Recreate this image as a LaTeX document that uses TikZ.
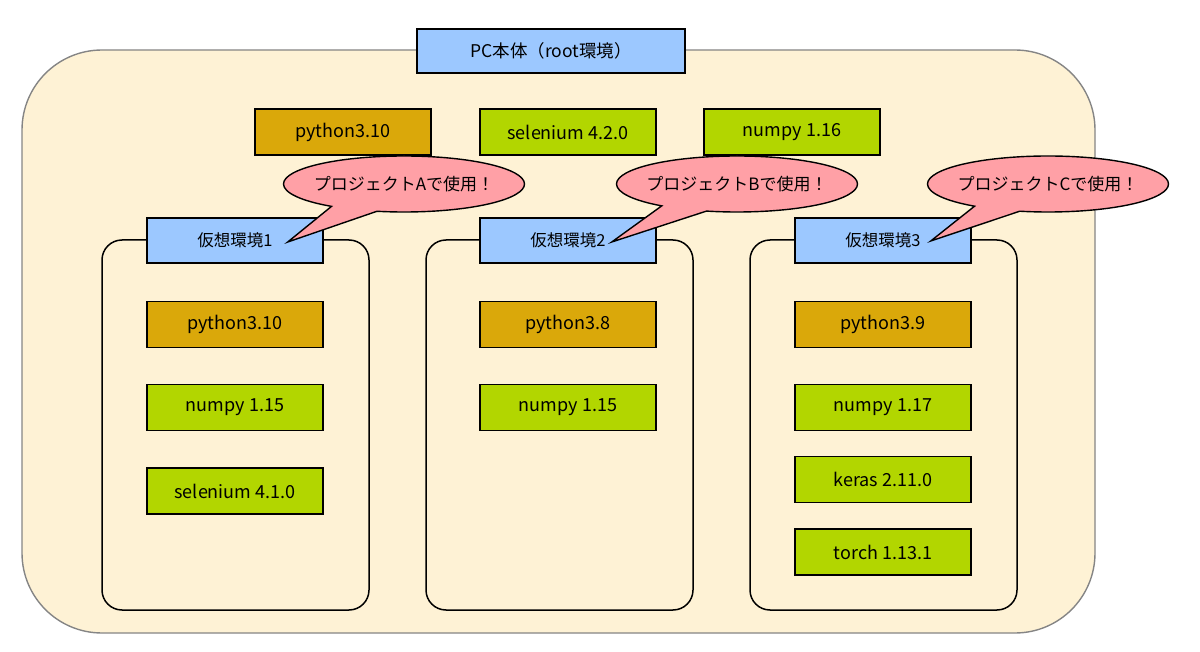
\documentclass[tikz,border=0pt]{standalone}
\usepackage{fontspec}
\setmainfont{Noto Sans CJK JP}
\usetikzlibrary{shapes.callouts,calc}
\definecolor{cream}{HTML}{FEF2D5}
\definecolor{skyb}{HTML}{9CC8FF}
\definecolor{gold}{HTML}{DAA80A}
\definecolor{lime}{HTML}{B2D600}
\definecolor{pinkc}{HTML}{FFA0A6}
\definecolor{outerg}{HTML}{858585}
\newcommand{\zw}[1]{\makebox[0pt]{#1}}
\tikzset{
  pkg/.style={draw=black, line width=1.5pt, minimum width=176pt, minimum height=46pt, inner sep=0pt,
    font=\fontsize{18}{21}\selectfont},
  pyb/.style={pkg, fill=gold},
  libb/.style={pkg, fill=lime},
  labb/.style={pkg, fill=skyb, minimum height=45pt, font=\fontsize{16.5}{19}\selectfont},
  envbox/.style={draw=black, line width=1.5pt, fill=cream, rounded corners=20pt, minimum width=267pt, minimum height=370pt},
  bubble/.style={ellipse callout, draw=black, line width=1.4pt, fill=pinkc, minimum width=241pt, minimum height=56pt,
    inner sep=0pt, callout pointer arc=24, font=\fontsize{17}{20}\selectfont},
}
\begin{document}
\begin{tikzpicture}[x=1pt,y=-1pt]
\useasboundingbox (0,0) rectangle (1200,652);
\node[draw=outerg, line width=1.4pt, fill=cream, rounded corners=80pt, minimum width=1073pt, minimum height=583pt] (root) at (558.5,341.5) {};
\node[labb, minimum width=268pt, minimum height=44pt, font=\fontsize{17.5}{20}\selectfont] (title) at (551,51) {PC本体（root環境）};
% top row
\node[pyb] (tpy) at (343,132) {python3.10};
\node[libb] (tsel) at (568,132) {selenium 4.2.0};
\node[libb] (tnp) at (792,132) {numpy 1.16};
% env boxes
\node[envbox] (env1) at (235.5,425) {};
\node[envbox] (env2) at (559.5,425) {};
\node[envbox] (env3) at (883.5,425) {};
\node[labb] (lab1) at (235,240.5) {仮想環境1};
\node[labb] (lab2) at (568,240.5) {仮想環境2};
\node[labb] (lab3) at (883,240.5) {仮想環境3};
% env1
\node[pyb] (e1py) at (235,324.5) {python3.10};
\node[libb] (e1np) at (235,407.5) {numpy 1.15};
\node[libb] (e1sel) at (235,491) {selenium 4.1.0};
% env2
\node[pyb] (e2py) at (568,324.5) {python3.8};
\node[libb] (e2np) at (568,407.5) {numpy 1.15};
% env3
\node[pyb] (e3py) at (883,324.5) {python3.9};
\node[libb] (e3np) at (883,407.5) {numpy 1.17};
\node[libb] (e3ker) at (883,479.5) {keras 2.11.0};
\node[libb] (e3tor) at (883,552) {torch 1.13.1};
% callouts
\node[bubble, callout absolute pointer={($(lab1.east)+(-36,1.5)$)}] (bA) at (404,184) {\zw{プロジェクトAで使用！}};
\node[bubble, callout absolute pointer={($(lab2.east)+(-45,1.5)$)}] (bB) at (737,184) {\zw{プロジェクトBで使用！}};
\node[bubble, callout absolute pointer={($(lab3.east)+(-41,0.5)$)}] (bC) at (1048,184) {\zw{プロジェクトCで使用！}};
\end{tikzpicture}
\end{document}
